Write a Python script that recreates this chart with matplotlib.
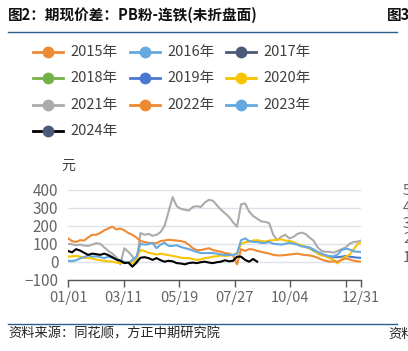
import matplotlib
matplotlib.use('Agg')
import matplotlib.pyplot as plt
from matplotlib.lines import Line2D

plt.rcParams['font.family'] = ['Noto Sans CJK SC', 'DejaVu Sans']
plt.rcParams['axes.unicode_minus'] = True

# ---------------- data ----------------
years = ['2015年', '2016年', '2017年', '2018年', '2019年',
         '2020年', '2021年', '2022年', '2023年', '2024年']
colors = ['#EE8A32', '#66A8E0', '#4A5A78', '#74B249', '#4A78D0',
          '#F6C400', '#ABABAB', '#EE8A32', '#66A8E0', '#000000']
marker_colors = ['#EE8A32', '#66A8E0', '#4A5A78', '#74B249', '#4A78D0',
                 '#F6C400', '#ABABAB', '#EE8A32', '#66A8E0', '#4A5A78']

days = list(range(0, 365, 5)) + [364]          # day of year

v2021 = [100, 97, 92, 95, 90, 88, 95, 103, 100, 80,
         60, 45, 25, -15, 75, 55, 30, -10, 160, 150,
         155, 145, 150, 165, 200, 280, 360, 310, 295, 290,
         285, 305, 310, 305, 330, 345, 340, 315, 290, 270,
         250, 220, 195, 320, 325, 280, 255, 240, 225, 222,
         215, 150, 120, 140, 150, 130, 138, 155, 162, 155,
         135, 118, 80, 60, 55, 55, 50, 60, 70, 80,
         100, 110, 112, 118]
v2022 = [130, 115, 110, 120, 118, 135, 150, 150, 160, 175,
         185, 195, 180, 185, 175, 160, 150, 135, 115, 110,
         105, 103, 103, 115, 118, 122, 120, 118, 115, 110,
         95, 75, 65, 65, 70, 75, 65, 60, 55, 48,
         45, 35, -15, 70, 60, 70, 68, 60, 55, 50,
         45, 38, 35, 35, 37, 40, 42, 45, 40, 37,
         35, 30, 22, 12, 5, 0, 2, 0, 10, 18,
         12, 5, 2, 0]
v2023 = [5, 3, 8, 18, 25, 35, 28, 30, 25, 20,
         28, 22, 15, 8, 0, -8, 10, 28, 100, 95,
         98, 105, 75, 95, 105, 88, 88, 92, 82, 76,
         70, 62, 55, 48, 48, 48, 48, 45, 40, 37,
         38, 37, 45, 120, 130, 115, 110, 110, 105, 105,
         110, 100, 98, 95, 100, 105, 100, 95, 85, 83,
         80, 68, 55, 45, 35, 30, 30, 40, 65, 72,
         68, 58, 55, 55]
v2020 = [28, 30, 32, 28, 22, 20, 18, 12, 8, 5,
         2, 0, -5, -8, -5, -3, -10, 20, 65, 60,
         50, 45, 40, 45, 40, 37, 32, 28, 22, 20,
         20, 15, 10, 12, 20, 22, 28, 30, 35, 32,
         35, 38, 45, 100, 108, 112, 118, 120, 115, 112,
         118, 120, 122, 125, 118, 115, 110, 98, 92, 85,
         75, 68, 45, 35, 30, 20, 10, -10, 15, 28,
         40, 70, 100, 105]
days2024 = list(range(0, 240, 5))
v2024 = [60, 52, 70, 62, 50, 38, 45, 42, 38, 45,
         37, 25, 12, 5, -8, -5, -28, -5, 22, 25,
         20, 10, 20, 8, 0, 5, 2, -8, -10, -15,
         -8, -5, -8, -3, 0, -5, -8, -3, 0, 8,
         2, 5, 28, 28, 10, 0, 15, 0]
days2019 = [295, 300, 305, 310, 315, 320, 325, 330, 335, 340, 345, 350, 355, 360, 364]
v2019 = [82, 75, 62, 50, 42, 35, 30, 25, 25, 28, 32, 28, 25, 22, 22]

xtick_pos = [0, 69, 138, 207, 276, 345, 364]
xtick_labels = ['01/01', '03/11', '05/19', '07/27', '10/04', '', '12/31']
ytick_pos = [-100, 0, 100, 200, 300, 400]

# ---------------- figure ----------------
W, H = 408, 351
fig = plt.figure(figsize=(W / 100, H / 100), dpi=100)


def fx(px):
    return px / W


def fy(py):
    return 1 - py / H


ax = fig.add_axes([fx(68), fy(279.6), fx(361) - fx(68), fy(190) - fy(279.6)])

lw = 1.5
ax.plot(days2019, v2019, color=colors[4], lw=lw, zorder=2)
ax.plot(days, v2020, color=colors[5], lw=lw, zorder=3)
ax.plot(days, v2021, color=colors[6], lw=lw, zorder=2)
ax.plot(days, v2022, color=colors[7], lw=lw, zorder=3)
ax.plot(days, v2023, color=colors[8], lw=lw, zorder=4)
ax.plot(days2024, v2024, color=colors[9], lw=lw, zorder=5)

ax.set_xlim(0, 364)
ax.set_ylim(-100, 400)
ax.set_yticks(ytick_pos)
ax.set_xticks(xtick_pos)
ax.set_xticklabels(xtick_labels)
ax.grid(axis='y', color='#DCE1EA', lw=1.0)
ax.set_axisbelow(True)
for s in ['left', 'right', 'top']:
    ax.spines[s].set_visible(False)
ax.spines['bottom'].set_color('#555555')
ax.spines['bottom'].set_linewidth(1.0)
ax.tick_params(axis='y', length=0, pad=7, labelsize=11, labelcolor='#666666')
ax.tick_params(axis='x', length=5, width=1.0, color='#555555', pad=3,
               labelsize=10.5, labelcolor='#666666')

# unit label
fig.text(fx(68), fy(166), '元', ha='center', va='center', fontsize=10, color='#404040')

# ---------------- legend ----------------
order_rows = [[0, 1, 2], [3, 4, 5], [6, 7, 8], [9]]
col_x = [33, 130, 226]
row_y = [52, 78, 105, 131]
for r, row in enumerate(order_rows):
    for c, i in enumerate(row):
        x0 = col_x[c]
        y0 = row_y[r]
        fig.add_artist(Line2D([fx(x0), fx(x0 + 30)], [fy(y0), fy(y0)],
                              color=colors[i], lw=2.0, transform=fig.transFigure))
        fig.add_artist(Line2D([fx(x0 + 15)], [fy(y0)], marker='o', markersize=8.5,
                              color=marker_colors[i], markeredgewidth=0,
                              transform=fig.transFigure))
        fig.text(fx(x0 + 37), fy(y0), years[i], ha='left', va='center',
                 fontsize=10.5, color='#404040')

# ---------------- title / frame texts ----------------
fig.text(fx(8), fy(15), '图2：期现价差：PB粉-连铁(未折盘面)', ha='left', va='center',
         fontsize=10.5, fontweight='bold', color='#111111')
fig.text(fx(387), fy(15), '图3', ha='left', va='center',
         fontsize=10.5, fontweight='bold', color='#111111')
fig.add_artist(Line2D([fx(8), fx(397)], [fy(32), fy(32)], color='#2A5F8F', lw=1.0,
                      transform=fig.transFigure))
fig.add_artist(Line2D([fx(8), fx(397)], [fy(324), fy(324)], color='#2A5F8F', lw=1.0,
                      transform=fig.transFigure))
fig.text(fx(8), fy(334), '资料来源：同花顺，方正中期研究院', ha='left', va='center',
         fontsize=9.5, style='italic', color='#222222')
fig.text(fx(388), fy(334), '资料', ha='left', va='center',
         fontsize=9.5, style='italic', color='#222222')

# partial tick labels of the neighbouring chart
for lab, yy in zip(['5', '4', '3', '2', '1'], [191, 208, 224, 239, 258]):
    fig.text(fx(403), fy(yy), lab, ha='left', va='center', fontsize=10.5, color='#666666')

fig.savefig('out.png', dpi=100)
